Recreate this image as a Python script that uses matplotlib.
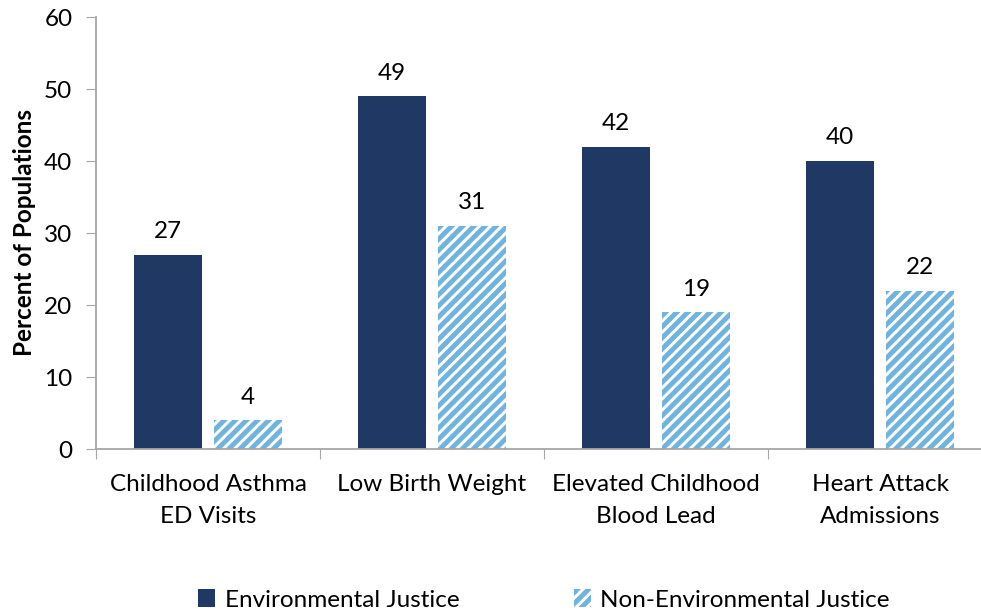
import matplotlib
matplotlib.use("Agg")
import matplotlib.pyplot as plt
import numpy as np
from matplotlib.patches import Patch

categories = ["Childhood Asthma\nED Visits", "Low Birth Weight", "Elevated Childhood\nBlood Lead", "Heart Attack\nAdmissions"]
ej_values = [27, 49, 42, 40]
nonej_values = [4, 31, 19, 22]
series_names = ["Environmental Justice", "Non-Environmental Justice"]

plt.rcParams['font.family'] = ['Lato', 'DejaVu Sans']
plt.rcParams['hatch.linewidth'] = 3.5

navy = "#203864"
light = "#6FB3DF"
gray = "#A6A6A6"
fs = 17.5

fig = plt.figure(figsize=(9.81, 6.13), dpi=100)
ax = fig.add_axes([96/981, 164/613, 896/981, 432/613])

x = np.arange(len(categories))
w = 0.306
off = 0.179
b1 = ax.bar(x - off, ej_values, w, color=navy, linewidth=0)
b2 = ax.bar(x + off, nonej_values, w, color="white", edgecolor=light, hatch="///", linewidth=0)

for rect, v in zip(list(b1) + list(b2), ej_values + nonej_values):
    ax.annotate(f"{v}", (rect.get_x() + rect.get_width()/2, rect.get_height()),
                xytext=(0, 9), textcoords="offset points", ha="center", va="bottom",
                fontsize=fs, color="black")

ax.set_xlim(-0.5, 3.5)
ax.set_ylim(0, 60)
ax.set_yticks(range(0, 61, 10))
ax.tick_params(axis='y', direction='out', length=7, color=gray, labelsize=fs, pad=10)
ax.set_xticks(np.arange(-0.5, 4.0, 1.0))
ax.set_xticklabels([])
ax.set_xticks(x, minor=True)
ax.set_xticklabels(categories, minor=True, fontsize=fs, linespacing=1.65)
ax.tick_params(axis='x', which='major', direction='out', length=7, color=gray)
ax.tick_params(axis='x', which='minor', length=0, pad=18)
for s in ["top", "right"]:
    ax.spines[s].set_visible(False)
for s in ["left", "bottom"]:
    ax.spines[s].set_color(gray)
    ax.spines[s].set_linewidth(1.3)

ax.set_ylabel("Percent of Populations", fontsize=fs, fontweight="bold", labelpad=6)

handles = [Patch(facecolor=navy, linewidth=0),
           Patch(facecolor="white", edgecolor=light, hatch="///", linewidth=0)]
fig.legend(handles, series_names, loc="center", bbox_to_anchor=(544/981, 1 - 600/613),
           ncol=2, frameon=False, fontsize=fs, handlelength=0.7, handleheight=0.7,
           handletextpad=0.4, columnspacing=4.7)

fig.savefig("out.png", dpi=100)
